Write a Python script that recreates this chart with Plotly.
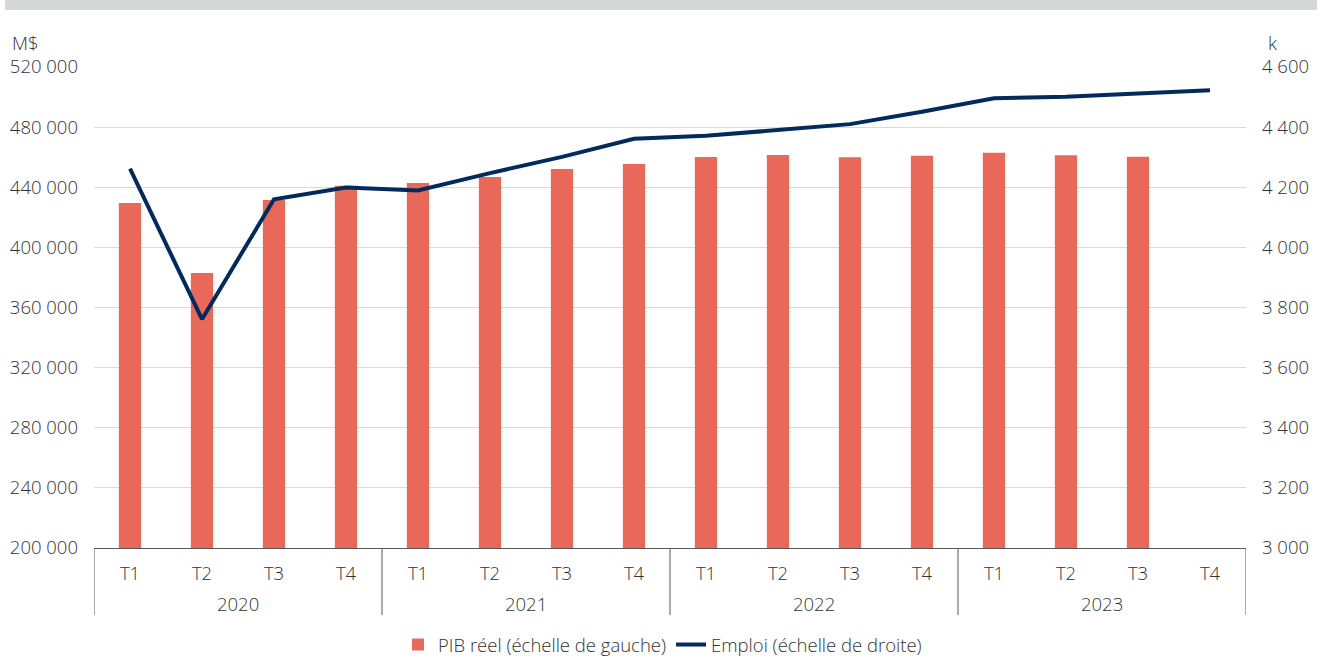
import plotly.graph_objects as go

years = ["2020", "2021", "2022", "2023"]
quarter_names = ["T1", "T2", "T3", "T4"]
periods = [f"{y} {q}" for y in years for q in quarter_names]
quarters = quarter_names * len(years)
pib = [429500, 383000, 431500, 441000, 442800, 446800, 452200, 455500,
       460100, 461500, 460000, 461000, 463000, 461300, 460300, None]
emploi = [4262, 3761, 4160, 4199, 4189, 4247, 4301, 4361,
          4371, 4391, 4410, 4451, 4496, 4501, 4512, 4523]

left_ticks = [200000, 240000, 280000, 320000, 360000, 400000, 440000, 480000, 520000]
right_ticks = [3000, 3200, 3400, 3600, 3800, 4000, 4200, 4400, 4600]

FONT = "Open Sans"
TXT = "#333333"
FS = 18.5
W, H = 1325, 660
L, R, T, B = 94, 79, 67, 112
pw, ph = W - L - R, H - T - B
AX = "#595959"

fig = go.Figure()
fig.add_trace(go.Bar(x=periods, y=pib, name="PIB réel (échelle de gauche)",
                     marker=dict(color="#E8695A", line=dict(width=0)), yaxis="y"))
fig.add_trace(go.Scatter(x=periods, y=emploi, name="Emploi (échelle de droite)",
                         mode="lines", line=dict(color="#002B5C", width=4), yaxis="y2"))

tf = dict(family=FONT, size=FS, color=TXT, weight=300)

nq = len(quarter_names)
annotations = [
    dict(text="M$", xref="paper", yref="paper", x=(10 - L) / pw, y=(H - B - 42) / ph,
         xanchor="left", yanchor="middle", showarrow=False, font=tf),
    dict(text="k", xref="paper", yref="paper", x=(1266 - L) / pw, y=(H - B - 42) / ph,
         xanchor="left", yanchor="middle", showarrow=False, font=tf),
]
for i, y in enumerate(years):
    annotations.append(dict(text=y, xref="x", yref="paper", x=i * nq + (nq - 1) / 2,
                            y=-(603 - (H - B)) / ph, xanchor="center", yanchor="middle",
                            showarrow=False, font=tf))

shapes = [
    dict(type="rect", xref="paper", yref="paper", x0=(5 - L) / pw, x1=(1317 - L) / pw,
         y0=(H - B - 10) / ph, y1=(H - B + 1) / ph, fillcolor="#D5D7D6",
         line=dict(width=0), layer="below"),
]
for i in range(len(years) + 1):
    shapes.append(dict(type="line", xref="x", yref="paper", x0=i * nq - 0.5, x1=i * nq - 0.5,
                       y0=0, y1=-(615 - (H - B)) / ph, line=dict(color=AX, width=1)))

fig.update_layout(
    width=W, height=H,
    margin=dict(l=L, r=R, t=T, b=B, autoexpand=False),
    paper_bgcolor="white", plot_bgcolor="white",
    separators=", ",
    font=tf,
    bargap=0.69,
    showlegend=True,
    legend=dict(orientation="h", x=0.5, xanchor="center", xref="container",
                y=(H - 645) / H, yanchor="middle", yref="container",
                font=tf, traceorder="normal"),
    xaxis=dict(type="category", showline=True, linecolor=AX, linewidth=1,
               range=[-0.5, len(periods) - 0.5],
               tickvals=periods, ticktext=quarters,
               ticks="", showgrid=False, tickfont=tf, ticklabelstandoff=9),
    yaxis=dict(range=[200000, 520000], tickvals=left_ticks, tickformat=",.0f",
               showgrid=True, gridcolor="#d9d9d9", gridwidth=1, zeroline=False,
               showline=False, ticks="", ticklabelstandoff=15, tickfont=tf),
    yaxis2=dict(range=[3000, 4600], tickvals=right_ticks, tickformat=",.0f",
                overlaying="y", side="right", showgrid=False, zeroline=False,
                showline=False, ticks="", ticklabelstandoff=15, tickfont=tf),
    annotations=annotations,
    shapes=shapes,
)

fig.write_html("out.html", config={"displayModeBar": False},
               post_script="document.body.style.margin='0px';")
